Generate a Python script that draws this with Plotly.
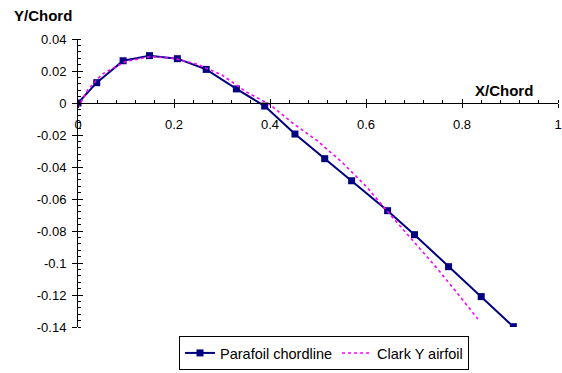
import plotly.graph_objects as go

# Parafoil chordline data
para_x = [0.0, 0.039, 0.094, 0.149, 0.207, 0.267, 0.330, 0.389, 0.452, 0.514, 0.570, 0.645, 0.701, 0.772, 0.840, 0.907]
para_y = [0.0, 0.0127, 0.0264, 0.0296, 0.0277, 0.021, 0.0088, -0.0019, -0.0194, -0.0348, -0.0486, -0.0673, -0.0823, -0.1023, -0.121, -0.1398]

# Clark Y airfoil data
clark_x = [0.0, 0.02, 0.05, 0.1, 0.15, 0.2, 0.25, 0.3, 0.35, 0.4, 0.45, 0.5, 0.55, 0.6, 0.65, 0.7, 0.75, 0.8, 0.833]
clark_y = [-0.003, 0.008, 0.018, 0.026, 0.029, 0.028, 0.024, 0.0175, 0.007, -0.001, -0.0132, -0.024, -0.037, -0.052, -0.0696, -0.087, -0.104, -0.1225, -0.135]

x_ticks = [0, 0.2, 0.4, 0.6, 0.8, 1]
x_ticklabels = ["0", "0.2", "0.4", "0.6", "0.8", "1"]
y_ticks = [0.04, 0.02, 0, -0.02, -0.04, -0.06, -0.08, -0.1, -0.12, -0.14]
y_ticklabels = ["0.04", "0.02", "0", "-0.02", "-0.04", "-0.06", "-0.08", "-0.1", "-0.12", "-0.14"]

YMIN, YMAX = -0.14, 0.04
XMIN, XMAX = 0, 1
x_axis_pos = (0 - YMIN) / (YMAX - YMIN)

FONT = "Liberation Sans, Arial, sans-serif"
ML, MR, MT, MB = 78, 4, 39, 46
PW, PH = 562 - ML - MR, 373 - MT - MB

fig = go.Figure()
fig.add_trace(go.Scatter(
    x=para_x, y=para_y, mode="lines+markers", name="Parafoil chordline",
    line=dict(color="#000080", width=2),
    marker=dict(symbol="square", size=7, color="#000080"),
))
fig.add_trace(go.Scatter(
    x=clark_x, y=clark_y, mode="lines", name="Clark Y airfoil",
    line=dict(color="#FF00FF", width=1.6, dash="3px,3px"),
))

axis_common = dict(showgrid=False, zeroline=False, showline=True, linecolor="black", linewidth=1)

fig.update_layout(
    width=562, height=373,
    margin=dict(l=ML, r=MR, t=MT, b=MB, autoexpand=False),
    paper_bgcolor="white", plot_bgcolor="white",
    font=dict(family=FONT, size=13, color="black"),
    showlegend=True,
    legend=dict(orientation="h", x=(324 - ML) / PW, xanchor="center", y=-(370 - (MT + PH)) / PH,
                yanchor="bottom",
                bordercolor="black", borderwidth=1, font=dict(size=14.5, family=FONT),
                itemwidth=30, tracegroupgap=0),
    xaxis=dict(range=[XMIN, XMAX], anchor="free", position=x_axis_pos,
               tickvals=x_ticks, ticktext=x_ticklabels, ticks="outside", ticklen=4,
               ticklabelstandoff=5, ticklabeloverflow="allow", automargin=False,
               tickcolor="black", minor=dict(dtick=0.04, tick0=0, ticks="inside", ticklen=3, tickcolor="black"),
               **axis_common),
    xaxis2=dict(range=[XMIN, XMAX], overlaying="x", anchor="free", position=x_axis_pos,
                tickvals=x_ticks, showticklabels=False, ticks="inside", ticklen=4,
                tickcolor="black", **axis_common),
    yaxis=dict(range=[YMIN, YMAX], tickvals=y_ticks, ticktext=y_ticklabels,
               ticks="outside", ticklen=5, tickcolor="black", ticklabelstandoff=3,
               ticklabeloverflow="allow", automargin=False,
               minor=dict(dtick=0.004, tick0=0, ticks="inside", ticklen=3, tickcolor="black"),
               **axis_common),
    yaxis2=dict(range=[YMIN, YMAX], overlaying="y", anchor="x", side="left",
                tickvals=y_ticks, showticklabels=False, ticks="inside", ticklen=5,
                tickcolor="black", **axis_common),
    annotations=[
        dict(text="<b>Y/Chord</b>", xref="paper", yref="paper", x=(43 - ML) / PW, y=1 + 24 / PH,
             xanchor="center", yanchor="middle", showarrow=False, font=dict(size=15, family=FONT)),
        dict(text="<b>X/Chord</b>", xref="paper", yref="paper", x=(504 - ML) / PW, y=x_axis_pos + 13 / PH,
             xanchor="center", yanchor="middle", showarrow=False, font=dict(size=15, family=FONT)),
    ],
)
# dummy trace to activate overlay axes
fig.add_trace(go.Scatter(x=[None], y=[None], xaxis="x2", yaxis="y2", showlegend=False, hoverinfo="skip"))

fig.write_html("out.html")
